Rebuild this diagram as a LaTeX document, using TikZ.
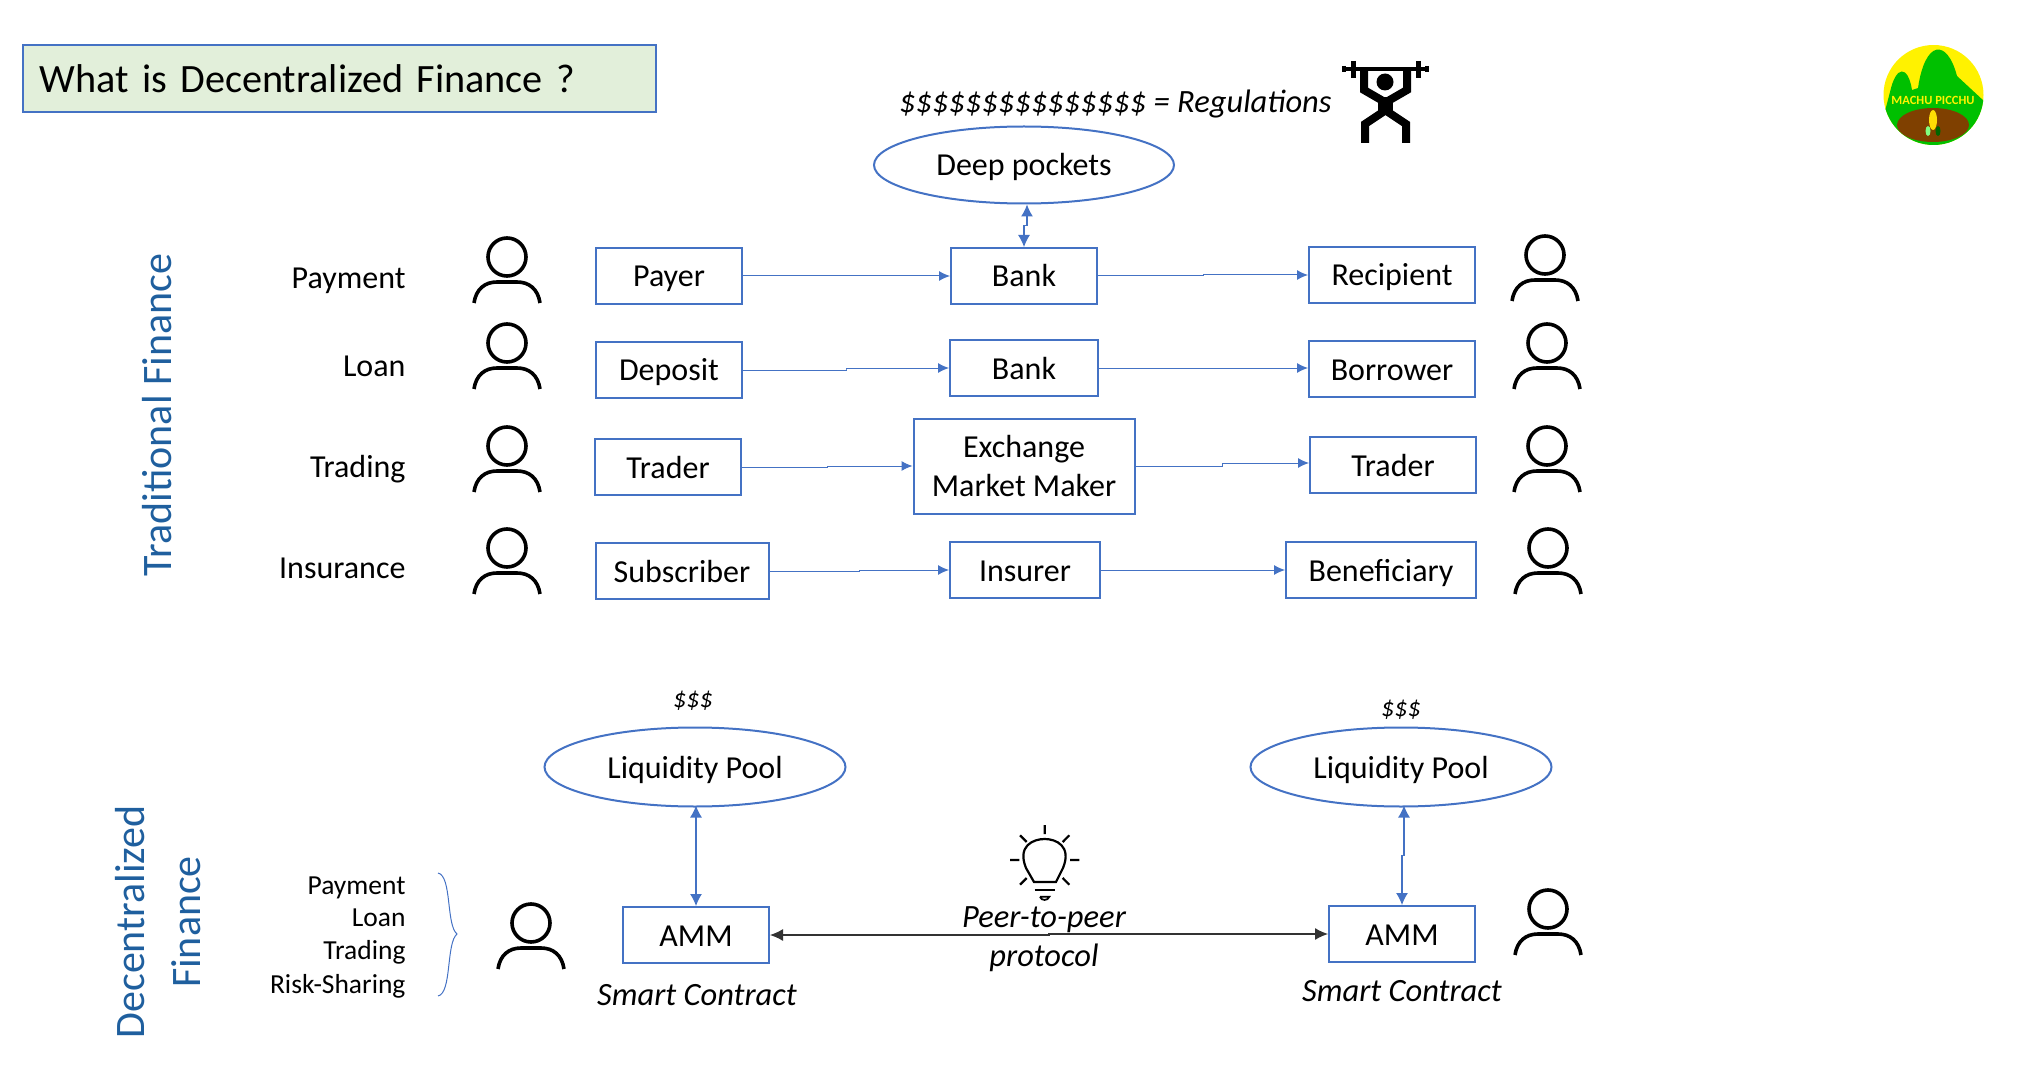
\documentclass[tikz,border=0pt]{standalone}
\usepackage{fontspec}
\setmainfont{Carlito}
\usepackage{xcolor}
\definecolor{boxBlue}{HTML}{4472C4}
\definecolor{titleGreen}{HTML}{E2EFDA}
\definecolor{headBlue}{HTML}{1F5F9E}
\definecolor{logoGreen}{HTML}{00C000}
\definecolor{logoBrown}{HTML}{7F4000}
\usetikzlibrary{positioning,arrows.meta,shapes.geometric,calc}

\begin{document}
\begin{tikzpicture}[x=1pt, y=-1pt,
    every node/.style={font=\fontsize{32}{38.5}\selectfont, text=black},
    box/.style={draw=boxBlue, line width=2pt, minimum height=56pt, align=center, inner sep=0pt},
    onebox/.style={box, text height=26pt, text depth=4pt},
    pool/.style={ellipse, draw=boxBlue, line width=2pt, minimum width=301pt, minimum height=79pt, inner sep=0pt, text height=26pt, text depth=4pt},
    rowlabel/.style={anchor=east, text height=26pt, text depth=4pt},
    smalllabel/.style={anchor=east, text height=21pt, text depth=3pt, font=\fontsize{27.5}{33}\selectfont},
    sidelabel/.style={rotate=90, align=center, text=headBlue, font=\fontsize{42}{50}\selectfont},
    note/.style={font=\fontsize{32.5}{39}\selectfont\itshape},
    arr/.style={-{Latex[length=11pt,width=10pt]}, boxBlue, line width=1pt},
    dblarr/.style={{Latex[length=12pt,width=12pt]}-{Latex[length=12pt,width=12pt]}, boxBlue, line width=1.2pt},
    elbow/.style={to path={-| ($(\tikztostart)!.5!(\tikztotarget)$) |- (\tikztotarget)}},
    velbow/.style={to path={|- ($(\tikztostart)!.5!(\tikztotarget)$) -| (\tikztotarget)}},
    person/.pic={
      \draw[line width=3.6pt] (0,0) circle (19);
      \draw[line width=3.6pt] (-33,46) .. controls (-31,32) and (-22,25) .. (-10,25)
        -- (10,25) .. controls (22,25) and (31,32) .. (33,46);
    }]
  \useasboundingbox (0,0) rectangle (2019,1075);
  % title and top row
  \node[draw=boxBlue, fill=titleGreen, line width=2pt, minimum width=633pt, minimum height=67pt,
        anchor=west, inner xsep=16pt, text width=600pt, font=\fontsize{40.2}{48}\selectfont] (title) at (22,79) {What is Decentralized Finance ?};
  \node[note, anchor=east] (regs) at (1335,104) {\$\$\$\$\$\$\$\$\$\$\$\$\$\$\$ = Regulations};
  \node[pool, minimum width=300pt, minimum height=77pt] (deep) at (1024,165) {Deep pockets};

  % side headings
  \node[sidelabel] (tradfi) at (157,415) {Traditional Finance};
  \node[sidelabel] (defi) at (158,922) {Decentralized\\[6pt]Finance};

  % row labels
  \node[rowlabel] (lpay) at (409,278) {Payment};
  \node[rowlabel] (lloan) at (409,366) {Loan};
  \node[rowlabel] (ltrade) at (409,466) {Trading};
  \node[rowlabel] (lins) at (409,567) {Insurance};
  \node[smalllabel] (spay) at (409,885) {Payment};
  \node[smalllabel] (sloan) at (409,917) {Loan};
  \node[smalllabel] (strade) at (409,950) {Trading};
  \node[smalllabel] (srisk) at (409,984) {Risk-Sharing};

  % traditional finance
  \node[onebox, minimum width=146pt] (payer) at (669,276) {Payer};
  \node[onebox, minimum width=146pt] (bank) at (1024,276) {Bank};
  \node[onebox, minimum width=166pt] (recip) at (1392,275) {Recipient};
  \node[onebox, minimum width=146pt] (depo) at (669,370) {Deposit};
  \node[onebox, minimum width=148pt] (banktwo) at (1024,368) {Bank};
  \node[onebox, minimum width=166pt] (borrow) at (1392,369) {Borrower};
  \node[onebox, minimum width=146pt] (trader) at (668,467) {Trader};
  \node[box, minimum width=221pt, minimum height=95pt] (exch) at (1024,466) {Exchange\\Market Maker};
  \node[onebox, minimum width=166pt] (tradertwo) at (1393,465) {Trader};
  \node[onebox, minimum width=173pt] (subs) at (682,571) {Subscriber};
  \node[onebox, minimum width=150pt] (insur) at (1025,570) {Insurer};
  \node[onebox, minimum width=190pt] (benef) at (1381,570) {Beneficiary};

  \draw[arr] (payer.east) -- (bank.west);
  \draw[arr] (bank.east) to[elbow] (recip.west);
  \draw[arr] (depo.east) to[elbow] (banktwo.west);
  \draw[arr] (banktwo.east) -- (borrow.west |- banktwo.east);
  \draw[arr] (trader.east) to[elbow] (exch.west);
  \draw[arr] (exch.east) to[elbow] ([yshift=2pt]tradertwo.west);
  \draw[arr] (subs.east) to[elbow] (insur.west);
  \draw[arr] (insur.east) -- (benef.west);
  \draw[dblarr] ([xshift=3pt]deep.south) to[velbow] (bank.north);

  % decentralized finance
  \node[pool] (poolone) at (695,767) {Liquidity Pool};
  \node[pool] (pooltwo) at (1401,767) {Liquidity Pool};
  \node[note, font=\fontsize{26}{30}\selectfont\itshape] (cashone) at (693,701) {\$\$\$};
  \node[note, font=\fontsize{26}{30}\selectfont\itshape] (cashtwo) at (1401,710) {\$\$\$};
  \node[onebox, minimum width=146pt] (ammone) at (696,935) {AMM};
  \node[onebox, minimum width=146pt] (ammtwo) at (1402,934) {AMM};
  \node[note] (scone) at (697,995) {Smart Contract};
  \node[note] (sctwo) at (1402,991) {Smart Contract};
  \node[note] (peer) at (1044,920) {Peer-to-peer};
  \node[note] (proto) at (1044,958) {protocol};

  \draw[dblarr] ([xshift=1pt,yshift=2pt]poolone.south) to[velbow] (ammone.north);
  \draw[dblarr] ([xshift=3pt,yshift=2pt]pooltwo.south) to[velbow] (ammtwo.north);
  \draw[{Latex[length=13pt,width=12pt]}-{Latex[length=13pt,width=12pt]}, line width=1.2pt, black!80] (ammone.east) to[elbow] (ammtwo.west);

  % brace
  \draw[boxBlue, line width=1pt] (438,873) .. controls (452,876) and (446,925) .. (457,934)
    .. controls (446,943) and (452,993) .. (438,996);

  % people
  \foreach \px/\py in {507/257, 507/343, 507/446, 507/548, 1545/255, 1547/343, 1547/446, 1548/548, 531/923, 1548/909}
    \pic at (\px,\py) {person};

  % light bulb
  \draw[line width=2.2pt] (1034,882) -- (1056,882) -- (1063,868) .. controls (1072,846) and (1056,839) .. (1044.7,839)
    .. controls (1033,839) and (1017,846) .. (1026,868) -- cycle;
  \draw[line width=2.2pt] (1034.7,890) -- (1055.3,890);
  \draw[line width=1.8pt] (1040,896.7) -- (1049.3,896.7) .. controls (1048,901) and (1041,901) .. (1040,896.7);
  \draw[line width=2.2pt] (1044.7,825) -- (1044.7,834) (1010,860) -- (1019.3,860) (1070,860) -- (1079.3,860)
    (1020,835.3) -- (1026.7,842) (1069.3,835.3) -- (1062.7,842) (1020,884.7) -- (1026.7,878) (1069.3,884.7) -- (1062.7,878);

  % weightlifter
  \draw[line width=3.5pt] (1346,69) -- (1425,69);
  \draw[line width=4pt] (1344,66) -- (1344,72) (1427,66) -- (1427,72);
  \draw[line width=5pt] (1353,61) -- (1353,78) (1418,61) -- (1418,78);
  \fill (1385,82) circle (8.5);
  \draw[line width=8pt, line join=miter] (1364,69) -- (1364,90) -- (1383,101) -- (1383,112) -- (1365,124) -- (1365,143);
  \draw[line width=8pt, line join=miter] (1407,69) -- (1407,90) -- (1388,101) -- (1388,112) -- (1406,124) -- (1406,143);
  \fill (1378,97) rectangle (1393,114);

  % logo
  \begin{scope}
    \clip (1933.5,95) circle (50);
    \fill[yellow] (1883,45) rectangle (1984,146);
    \fill[logoGreen] (1880,146) -- (1880,130) -- (1890,92) .. controls (1896,65) and (1908,65) .. (1912,90)
      -- (1918,88) .. controls (1925,40) and (1947,38) .. (1957,76) -- (1985,102) -- (1985,146) -- cycle;
    \fill[logoBrown] (1933,125) ellipse (36 and 17);
  \end{scope}
  \node[inner sep=0pt, text=yellow, font=\fontsize{12.5}{15}\selectfont\bfseries] (logotext) at (1933,100) {MACHU PICCHU};
  \fill[yellow!80!orange] (1933,120) ellipse (4 and 10);
  \fill[green!50!white] (1928,131) ellipse (2.5 and 5);
  \fill[green!40!black] (1938,131) ellipse (2.5 and 5);
\end{tikzpicture}
\end{document}
